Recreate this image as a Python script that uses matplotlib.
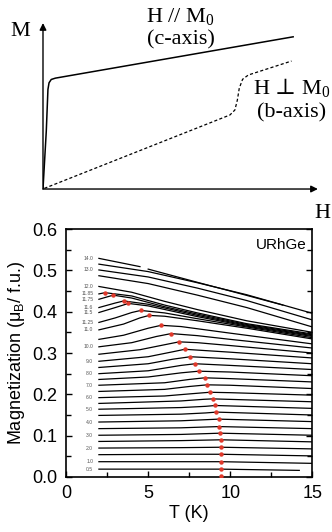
import matplotlib
matplotlib.use("Agg")
import matplotlib.pyplot as plt
from matplotlib.ticker import MultipleLocator, FormatStrFormatter

plt.rcParams['font.family'] = ['Liberation Sans', 'DejaVu Sans']
plt.rcParams['mathtext.fontset'] = 'dejavuserif'

# schematic M(H), arbitrary units
schem_H_c = [0.0, 0.012, 0.018, 0.022, 0.03, 0.045, 0.91]
schem_M_c = [0.0, 0.35, 0.60, 0.64, 0.66, 0.668, 0.917]
schem_H_b = [0.005, 0.68, 0.698, 0.707, 0.714, 0.726, 0.747, 0.904]
schem_M_b = [0.004, 0.446, 0.476, 0.536, 0.607, 0.661, 0.687, 0.771]

# M(T) curves of URhGe, field along b (T in K, M in muB/f.u.)
fields = ["0.5", "1.0", "1.5", "2.0", "2.5", "3.0", "3.5", "4.0", "4.5", "5.0",
          "5.5", "6.0", "6.5", "7.0", "7.5", "8.0", "8.5", "9.0", "9.5", "10.0",
          "10.5", "11.0", "11.25", "11.5", "11.6", "11.75", "11.85", "12.0",
          "12.5", "13.0", "13.5", "14.0"]
curve_T = {
    "0.5": [2.0, 9.45, 14.2],
    "1.0": [2.0, 7.0, 9.45, 15.0],
    "1.5": [2.0, 7.0, 9.45, 15.0],
    "2.0": [2.0, 7.0, 9.45, 15.0],
    "2.5": [2.0, 7.0, 9.45, 15.0],
    "3.0": [2.0, 7.0, 9.39, 15.0],
    "3.5": [2.0, 7.0, 9.31, 15.0],
    "4.0": [2.0, 7.0, 9.29, 15.0],
    "4.5": [2.0, 7.0, 8.5, 9.15, 15.0],
    "5.0": [2.0, 7.0, 8.5, 9.09, 15.0],
    "5.5": [2.0, 7.0, 8.4, 8.94, 15.0],
    "6.0": [2.0, 6.0, 7.5, 8.74, 10.0, 15.0],
    "6.5": [2.0, 6.0, 7.5, 8.6, 10.0, 15.0],
    "7.0": [2.0, 6.0, 7.5, 8.44, 10.0, 15.0],
    "7.5": [2.0, 5.0, 7.0, 8.07, 10.0, 15.0],
    "8.0": [2.0, 5.0, 7.0, 7.87, 10.0, 15.0],
    "8.5": [2.0, 5.0, 6.5, 7.57, 10.0, 15.0],
    "9.0": [2.0, 5.0, 6.5, 7.23, 10.0, 15.0],
    "9.5": [2.0, 4.5, 6.0, 6.88, 8.0, 10.0, 15.0],
    "10.0": [2.0, 4.0, 5.5, 6.4, 8.0, 10.0, 15.0],
    "10.5": [2.0, 3.5, 5.0, 5.79, 7.0, 10.0, 15.0],
    "11.0": [2.0, 3.5, 4.5, 5.06, 6.0, 8.0, 11.0, 15.0],
    "11.25": [2.0, 3.0, 4.0, 4.55, 6.0, 8.0, 11.0, 15.0],
    "11.5": [2.0, 3.0, 3.8, 5.0, 8.0, 11.0, 15.0],
    "11.6": [2.0, 3.0, 3.52, 5.0, 8.0, 11.0, 15.0],
    "11.75": [2.0, 2.87, 4.0, 6.0, 8.0, 11.0, 15.0],
    "11.85": [2.0, 2.37, 4.0, 6.0, 8.0, 11.0, 15.0],
    "12.0": [2.0, 4.0, 6.0, 8.0, 11.0, 15.0],
    "12.5": [2.0, 5.0, 8.0, 11.0, 15.0],
    "13.0": [2.0, 5.0, 8.0, 11.0, 15.0],
    "13.5": [2.0, 5.0, 8.0, 11.0, 15.0],
    "14.0": [2.0, 4.5, None, 5.0, 8.0, 10.0, 13.2],
}
curve_M = {
    "0.5": [0.019, 0.019, 0.016],
    "1.0": [0.037, 0.037, 0.037, 0.033],
    "1.5": [0.054, 0.055, 0.055, 0.051],
    "2.0": [0.070, 0.071, 0.072, 0.068],
    "2.5": [0.086, 0.088, 0.090, 0.085],
    "3.0": [0.101, 0.103, 0.106, 0.101],
    "3.5": [0.117, 0.119, 0.122, 0.117],
    "4.0": [0.133, 0.136, 0.140, 0.134],
    "4.5": [0.149, 0.152, 0.155, 0.157, 0.150],
    "5.0": [0.164, 0.168, 0.171, 0.173, 0.166],
    "5.5": [0.178, 0.184, 0.188, 0.189, 0.182],
    "6.0": [0.192, 0.196, 0.201, 0.205, 0.204, 0.198],
    "6.5": [0.207, 0.212, 0.219, 0.223, 0.222, 0.214],
    "7.0": [0.222, 0.228, 0.236, 0.240, 0.238, 0.230],
    "7.5": [0.236, 0.242, 0.252, 0.256, 0.254, 0.245],
    "8.0": [0.250, 0.257, 0.270, 0.274, 0.270, 0.260],
    "8.5": [0.265, 0.274, 0.285, 0.291, 0.286, 0.274],
    "9.0": [0.280, 0.291, 0.303, 0.309, 0.302, 0.288],
    "9.5": [0.297, 0.308, 0.320, 0.327, 0.325, 0.318, 0.300],
    "10.0": [0.315, 0.325, 0.340, 0.347, 0.342, 0.333, 0.312],
    "10.5": [0.333, 0.343, 0.360, 0.367, 0.364, 0.348, 0.322],
    "11.0": [0.356, 0.370, 0.385, 0.391, 0.389, 0.378, 0.360, 0.334],
    "11.25": [0.374, 0.385, 0.398, 0.403, 0.397, 0.383, 0.363, 0.337],
    "11.5": [0.398, 0.410, 0.420, 0.414, 0.388, 0.365, 0.340],
    "11.6": [0.410, 0.421, 0.426, 0.418, 0.391, 0.367, 0.342],
    "11.75": [0.430, 0.440, 0.433, 0.412, 0.394, 0.369, 0.344],
    "11.85": [0.443, 0.446, 0.438, 0.416, 0.397, 0.371, 0.346],
    "12.0": [0.461, 0.447, 0.425, 0.405, 0.378, 0.350],
    "12.5": [0.487, 0.468, 0.440, 0.410, 0.363],
    "13.0": [0.501, 0.484, 0.457, 0.427, 0.380],
    "13.5": [0.515, 0.497, 0.470, 0.441, 0.396],
    "14.0": [0.529, 0.509, None, 0.503, 0.471, 0.450, 0.416],
}
labelled = ["0.5", "1.0", "2.0", "3.0", "4.0", "5.0", "6.0", "7.0", "8.0", "9.0",
            "10.0", "11.0", "11.25", "11.5", "11.6", "11.75", "11.85", "12.0",
            "13.0", "14.0"]

# Curie temperature (maximum of M) for each field
tc_T = [9.45, 9.45, 9.45, 9.45, 9.45, 9.45, 9.39, 9.31, 9.29, 9.15, 9.09, 8.94,
        8.74, 8.6, 8.44, 8.07, 7.87, 7.57, 7.23, 6.88, 6.4, 5.79, 5.06, 4.55,
        3.8, 3.52, 2.87, 2.37]
tc_M = [0.002, 0.019, 0.037, 0.055, 0.072, 0.090, 0.106, 0.122, 0.140, 0.157,
        0.173, 0.189, 0.205, 0.223, 0.240, 0.256, 0.274, 0.291, 0.309, 0.327,
        0.347, 0.367, 0.391, 0.403, 0.420, 0.426, 0.440, 0.446]

fig = plt.figure(figsize=(3.32, 5.32), dpi=100)

# ---- top: schematic ----
serif = ['Liberation Serif', 'DejaVu Serif']
ax0 = fig.add_axes([0.1295, 0.6447, 0.828, 0.312])
ax0.plot(schem_H_c, schem_M_c, color='black', lw=1.1)
ax0.plot(schem_H_b, schem_M_b, color='black', lw=0.9, ls=(0, (2.5, 1.8)))
ax0.set_xlim(0, 1)
ax0.set_ylim(0, 1)
ax0.axis('off')
arrow = dict(arrowstyle='-|>', color='black', lw=1.0, mutation_scale=10,
             shrinkA=0, shrinkB=0)
ax0.annotate('', xy=(1.0, 0), xytext=(0, 0), arrowprops=arrow, annotation_clip=False)
ax0.annotate('', xy=(0, 1.0), xytext=(0, 0), arrowprops=arrow, annotation_clip=False)
ax0.text(-0.084, 0.946, 'M', family=serif, fontsize=16, ha='center', va='center')
ax0.text(1.015, -0.145, 'H', family=serif, fontsize=16, ha='center', va='center',
         clip_on=False)
ax0.text(0.50, 1.036, r'H // M$_\mathregular{0}$', family=serif, fontsize=16,
         ha='center', va='center')
ax0.text(0.50, 0.898, '(c-axis)', family=serif, fontsize=16, ha='center', va='center')
ax0.text(0.905, 0.608, 'H $\u22a5$ M$_\\mathregular{0}$', family=serif, fontsize=16,
         ha='center', va='center')
ax0.text(0.905, 0.458, '(b-axis)', family=serif, fontsize=16, ha='center', va='center')

# ---- bottom: M(T) ----
ax = fig.add_axes([0.199, 0.1034, 0.742, 0.4661])
for f in fields:
    T = curve_T[f]
    M = curve_M[f]
    ax.plot([t if t is not None else float('nan') for t in T],
            [m if m is not None else float('nan') for m in M],
            color='black', lw=0.9)
    if f in labelled:
        ax.text(1.65, M[0], f, fontsize=3.6, color='#555555', ha='right', va='center')
ax.plot(tc_T, tc_M, 'o', color='#e0392b', ms=3.2, mec='none', zorder=5)
ax.text(0.975, 0.935, 'URhGe', transform=ax.transAxes, fontsize=11,
        ha='right', va='center')

ax.set_xlim(0, 15)
ax.set_ylim(0, 0.6)
ax.xaxis.set_major_locator(MultipleLocator(5))
ax.xaxis.set_minor_locator(MultipleLocator(2.5))
ax.yaxis.set_major_locator(MultipleLocator(0.1))
ax.yaxis.set_minor_locator(MultipleLocator(0.05))
ax.yaxis.set_major_formatter(FormatStrFormatter('%.1f'))
ax.tick_params(which='both', direction='in', top=False, right=True,
               labelsize=13, width=1.0, pad=6)
ax.tick_params(which='major', length=4.5)
ax.tick_params(which='minor', length=3.5)
for s in ax.spines.values():
    s.set_linewidth(1.2)
ax.set_xlabel('T (K)', fontsize=13, labelpad=2)
ax.set_ylabel(r'Magnetization ($\mathregular{\mu_B}$/ f.u.)', fontsize=13, labelpad=4)

fig.savefig('out.png', dpi=100)
